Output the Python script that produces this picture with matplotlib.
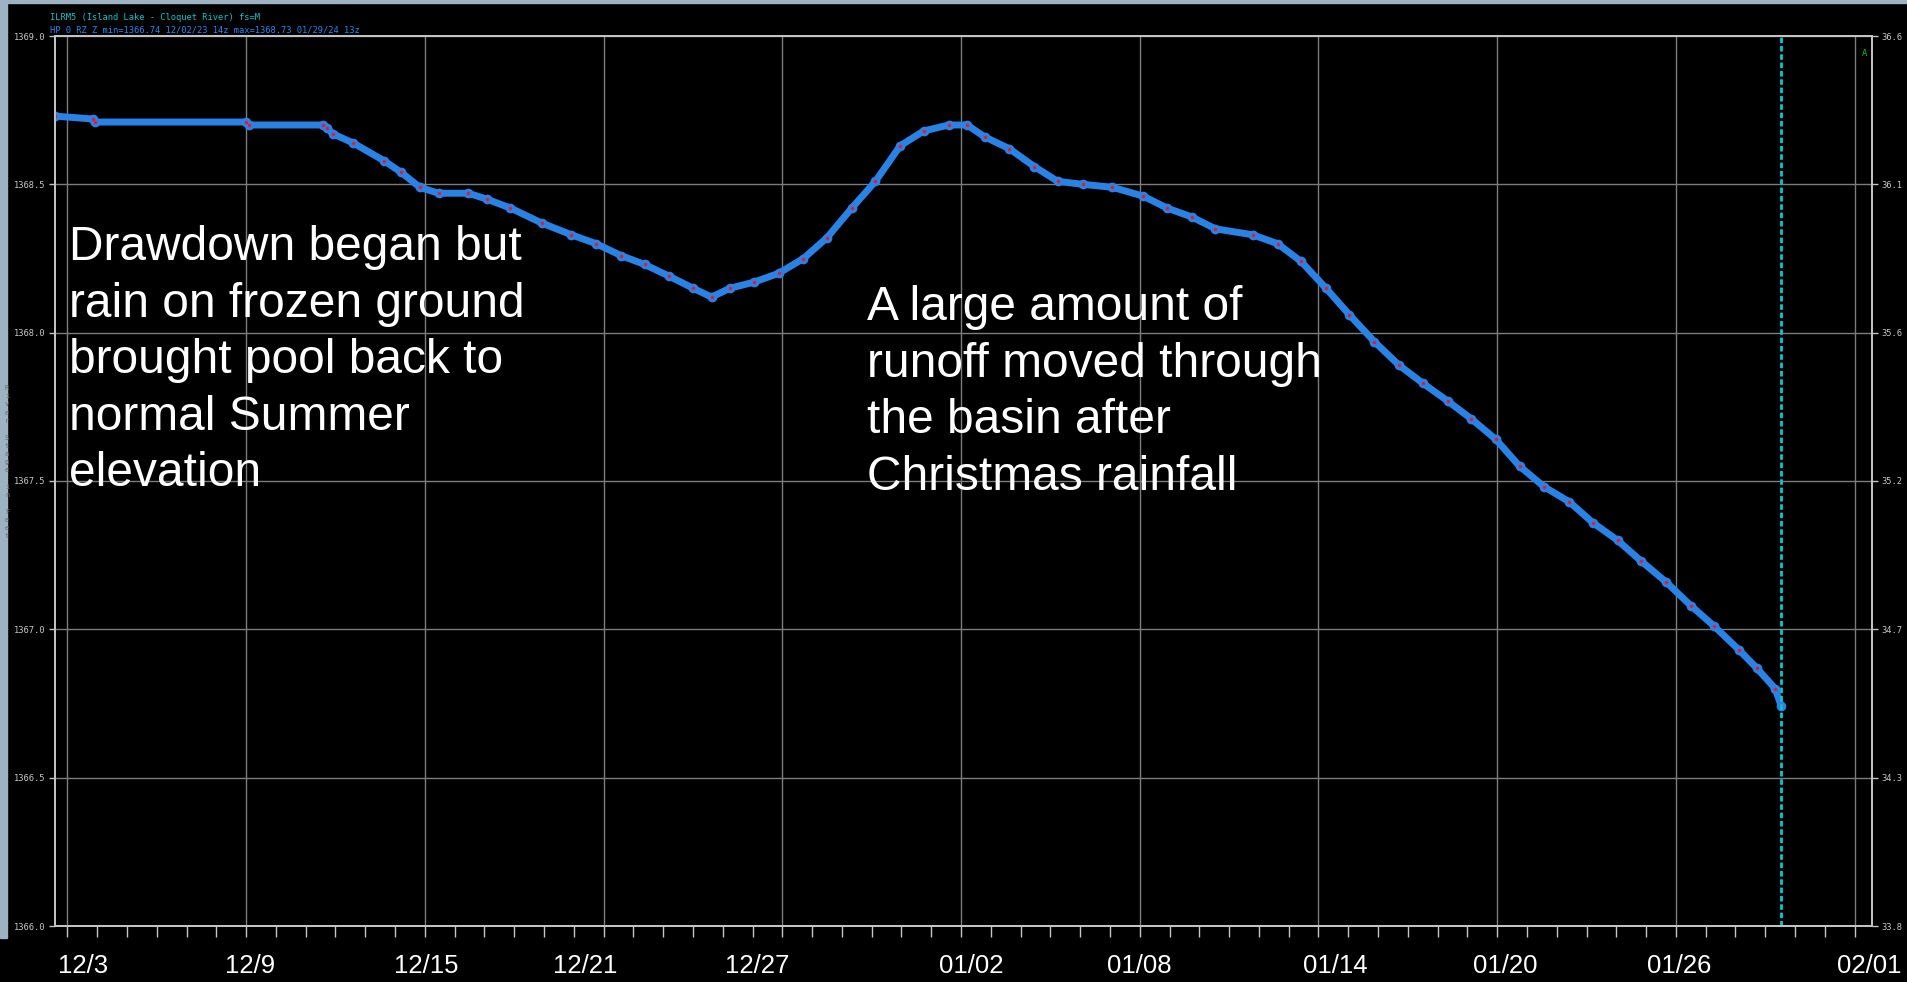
import pandas as pd
import matplotlib
matplotlib.use("Agg")
import matplotlib.pyplot as plt
import matplotlib.dates as mdates
from matplotlib.patches import Rectangle
from matplotlib.transforms import ScaledTranslation

# stage readings (UTC) for ILRM5
obs_times = [
    "2023-12-02 14:00", "2023-12-03 21:00", "2023-12-03 22:00", "2023-12-09 00:00",
    "2023-12-09 02:00", "2023-12-11 14:00", "2023-12-11 17:00", "2023-12-11 22:00",
    "2023-12-12 14:00", "2023-12-13 15:00", "2023-12-14 05:00", "2023-12-14 20:00",
    "2023-12-15 11:00", "2023-12-16 11:00", "2023-12-17 02:00", "2023-12-17 21:00",
    "2023-12-18 22:00", "2023-12-19 22:00", "2023-12-20 18:00", "2023-12-21 14:00",
    "2023-12-22 09:00", "2023-12-23 05:00", "2023-12-24 00:00", "2023-12-24 15:00",
    "2023-12-25 06:00", "2023-12-26 01:00", "2023-12-26 21:00", "2023-12-27 17:00",
    "2023-12-28 12:00", "2023-12-29 08:00", "2023-12-30 03:00", "2023-12-30 23:00",
    "2023-12-31 18:00", "2024-01-01 14:00", "2024-01-02 05:00", "2024-01-02 19:00",
    "2024-01-03 15:00", "2024-01-04 11:00", "2024-01-05 06:00", "2024-01-06 02:00",
    "2024-01-07 02:00", "2024-01-08 03:00", "2024-01-08 22:00", "2024-01-09 18:00",
    "2024-01-10 13:00", "2024-01-11 19:00", "2024-01-12 15:00", "2024-01-13 10:00",
    "2024-01-14 06:00", "2024-01-15 01:00", "2024-01-15 21:00", "2024-01-16 17:00",
    "2024-01-17 12:00", "2024-01-18 08:00", "2024-01-19 03:00", "2024-01-19 23:00",
    "2024-01-20 18:00", "2024-01-21 14:00", "2024-01-22 10:00", "2024-01-23 05:00",
    "2024-01-24 01:00", "2024-01-24 20:00", "2024-01-25 16:00", "2024-01-26 12:00",
    "2024-01-27 07:00", "2024-01-28 03:00", "2024-01-28 17:00", "2024-01-29 08:00",
    "2024-01-29 13:00",
]
stage_ft = [
    1368.73, 1368.72, 1368.71, 1368.71,
    1368.70, 1368.70, 1368.69, 1368.67,
    1368.64, 1368.58, 1368.54, 1368.49,
    1368.47, 1368.47, 1368.45, 1368.42,
    1368.37, 1368.33, 1368.30, 1368.26,
    1368.23, 1368.19, 1368.15, 1368.12,
    1368.15, 1368.17, 1368.20, 1368.25,
    1368.32, 1368.42, 1368.51, 1368.63,
    1368.68, 1368.70, 1368.70, 1368.66,
    1368.62, 1368.56, 1368.51, 1368.50,
    1368.49, 1368.46, 1368.42, 1368.39,
    1368.35, 1368.33, 1368.30, 1368.24,
    1368.15, 1368.06, 1367.97, 1367.89,
    1367.83, 1367.77, 1367.71, 1367.64,
    1367.55, 1367.48, 1367.43, 1367.36,
    1367.30, 1367.23, 1367.16, 1367.08,
    1367.01, 1366.93, 1366.87, 1366.80,
    1366.74,
]

tick_dates = ["2023-12-03", "2023-12-09", "2023-12-15", "2023-12-21", "2023-12-27",
              "2024-01-02", "2024-01-08", "2024-01-14", "2024-01-20", "2024-01-26",
              "2024-02-01"]
tick_labels = ["12/3", "12/9", "12/15", "12/21", "12/27",
               "01/02", "01/08", "01/14", "01/20", "01/26", "02/01"]

stage_ticks = [1366.0, 1366.5, 1367.0, 1367.5, 1368.0, 1368.5, 1369.0]
right_labels = ["33.8", "34.3", "34.7", "35.2", "35.6", "36.1", "36.6"]

now_time = "2024-01-29 13:00"
x_start, x_end = "2023-12-02 14:00", "2024-02-01 14:00"

header1 = "ILRM5 (Island Lake - Cloquet River) fs=M"
header2 = "HP 0 RZ Z min=1366.74 12/02/23 14z max=1368.73 01/29/24 13z"
note_left = "Drawdown began but\nrain on frozen ground\nbrought pool back to\nnormal Summer\nelevation"
note_right = "A large amount of\nrunoff moved through\nthe basin after\nChristmas rainfall"

t = pd.to_datetime(obs_times)
W, H = 1907, 982

fig = plt.figure(figsize=(W / 100, H / 100), dpi=100, facecolor="black")
ax = fig.add_axes([55 / W, 1 - 926 / H, (1872 - 55) / W, (926 - 36) / H])
ax.set_facecolor("black")

# window frame strips
fig.patches.append(Rectangle((0, 1 - 938 / H), 7 / W, 938 / H, transform=fig.transFigure,
                             color="#9db2c2", zorder=0))
fig.patches.append(Rectangle((0, 1 - 3 / H), 1, 3 / H, transform=fig.transFigure,
                             color="#9db2c2", zorder=0))

ax.set_xlim(pd.Timestamp(x_start), pd.Timestamp(x_end))
ax.set_ylim(1366.0, 1369.0)

ax.set_xticks(pd.to_datetime(tick_dates))
ax.set_xticklabels(tick_labels)
ax.xaxis.set_minor_locator(mdates.DayLocator())
ax.set_yticks(stage_ticks)
ax.set_yticklabels([f"{v:.1f}" for v in stage_ticks])

ax.grid(True, which="major", color="#7c7c7c", lw=1)
for s in ax.spines.values():
    s.set_color("#c4c4c4")
    s.set_linewidth(1.3)

ax.tick_params(axis="x", which="both", length=8, width=1, color="#c4c4c4",
               labelcolor="white", pad=12.5)
ax.tick_params(axis="x", labelsize=18.5)
ax.tick_params(axis="y", length=4, width=1, color="#c4c4c4", labelcolor="#c8c8c8",
               labelsize=6.3, pad=3)
for lab in ax.get_yticklabels():
    lab.set_family("DejaVu Sans Mono")

# date labels sit a little off their ticks (pixels)
label_nudge = [16, 4, 1, -18, -25, 10, 0, 17, 8, 3, 15]
for lab, dx in zip(ax.get_xticklabels(), label_nudge):
    lab.set_family(["Liberation Sans", "DejaVu Sans"])
    lab.set_transform(lab.get_transform() + ScaledTranslation(dx / 100, 0, fig.dpi_scale_trans))

ax2 = ax.twinx()
ax2.set_ylim(ax.get_ylim())
ax2.set_yticks(stage_ticks)
ax2.set_yticklabels(right_labels)
ax2.tick_params(axis="y", length=4, width=1, color="#c4c4c4", labelcolor="#c8c8c8",
                labelsize=6.3, pad=3)
for lab in ax2.get_yticklabels():
    lab.set_family("DejaVu Sans Mono")
for s in ax2.spines.values():
    s.set_color("#c4c4c4")
    s.set_linewidth(1.3)

# observed stage trace
ax.plot(t, stage_ft, color="#2a82e4", lw=5, solid_capstyle="round",
        solid_joinstyle="round", zorder=3)
ax.plot(t, stage_ft, "o", ms=7, color="#2a82e4", mew=0, zorder=3)
ax.plot(t, stage_ft, "o", ms=2.5, color="#ee1530", mew=0, zorder=4)

ax.axvline(pd.Timestamp(now_time), color="#00c8d0", lw=2, ls=(0, (2, 1)), zorder=5)

fig.text(50 / W, 1 - 18 / H, header1, family="DejaVu Sans Mono", fontsize=6.3,
         color="#10c0c8", va="center")
fig.text(50 / W, 1 - 30 / H, header2, family="DejaVu Sans Mono", fontsize=6.3,
         color="#2a86e6", va="center")
fig.text(1864 / W, 1 - 53 / H, "A", family="DejaVu Sans Mono", fontsize=6.3,
         color="#10c010", ha="center", va="center")
fig.text(7 / W, 1 - 385 / H, "\n".join("River Stage in Feet"), family="DejaVu Sans Mono",
         fontsize=5, color="#6a6a6a", ha="center", va="top", linespacing=1.45)

fig.text(69 / W, 1 - 225 / H, note_left, family=["Liberation Sans", "DejaVu Sans"],
         fontsize=34.5, color="white", va="top", ha="left", linespacing=1.33)
fig.text(867 / W, 1 - 285 / H, note_right, family=["Liberation Sans", "DejaVu Sans"],
         fontsize=34.5, color="white", va="top", ha="left", linespacing=1.33)

fig.savefig("out.png", dpi=100, facecolor="black")
